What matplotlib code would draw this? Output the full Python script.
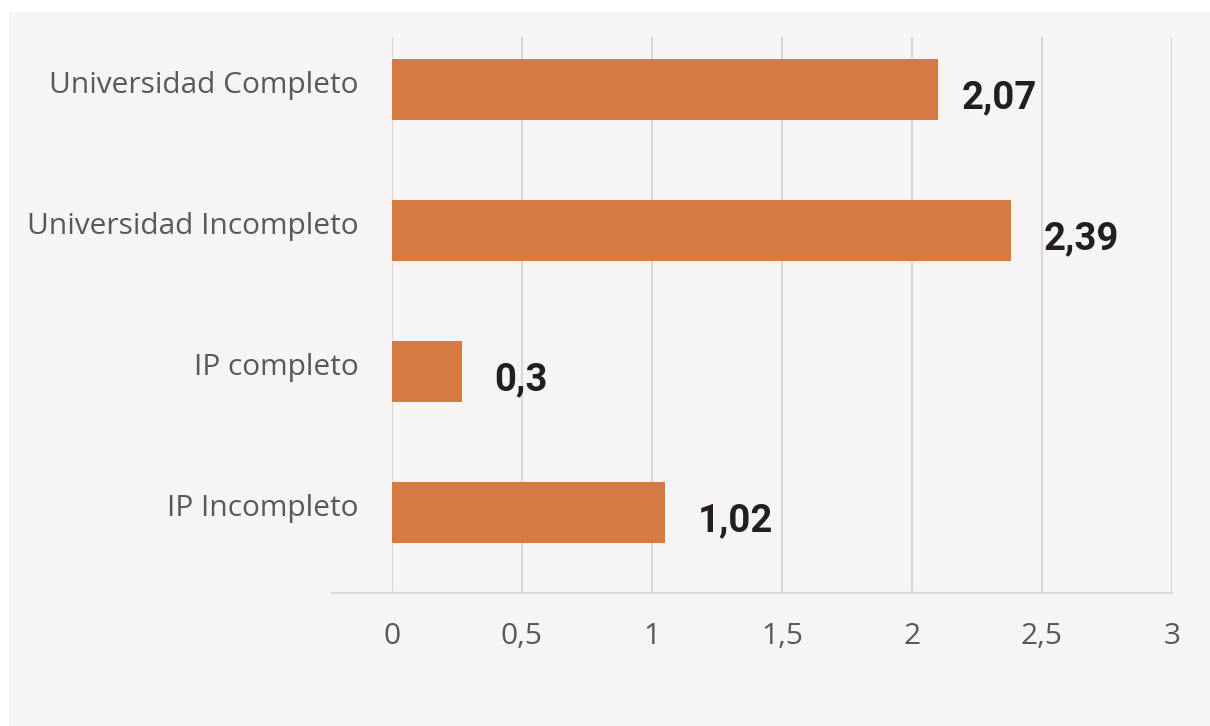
import matplotlib.pyplot as plt
from matplotlib.patches import Rectangle
from matplotlib.transforms import ScaledTranslation

# datos (de arriba hacia abajo)
categories = ["Universidad Completo", "Universidad Incompleto", "IP completo", "IP Incompleto"]
bar_values = [2.10, 2.38, 0.27, 1.05]  # largo de las barras tal como se dibujan
value_labels = ["2,07", "2,39", "0,3", "1,02"]
x_ticks = [0, 0.5, 1, 1.5, 2, 2.5, 3]
x_tick_labels = ["0", "0,5", "1", "1,5", "2", "2,5", "3"]

W, H = 1210, 726
bg = "#F6F4F5"
bar_color = "#D57A43"
grid_color = "#D9D9D9"
text_gray = "#595959"

fig = plt.figure(figsize=(W / 100, H / 100), dpi=100, facecolor="white")
# panel de fondo
fig.patches.append(Rectangle((9 / W, 0), 1 - 9 / W, 1 - 12 / H,
                             transform=fig.transFigure, facecolor=bg,
                             edgecolor="none", zorder=-10))

left, right = 392 / W, 1172 / W
top, bottom = 1 - 37 / H, 1 - 593 / H
ax = fig.add_axes([left, bottom, right - left, top - bottom])
ax.set_facecolor("none")

pos = list(range(len(categories)))
ax.barh(pos, bar_values, height=0.43, color=bar_color, zorder=3)

ax.set_xlim(0, 3)
ax.set_ylim(3.571, -0.372)
ax.set_xticks(x_ticks)
ax.set_xticklabels(x_tick_labels)
ax.set_yticks(pos)
ax.set_yticklabels(categories)

ax.grid(axis="x", color=grid_color, linewidth=1.5, zorder=0)
for s in ax.spines.values():
    s.set_visible(False)
ax.tick_params(axis="both", length=0, labelcolor=text_gray, labelsize=21.5)
ax.tick_params(axis="y", pad=24)
ax.tick_params(axis="x", pad=21)
for lab in ax.get_xticklabels() + ax.get_yticklabels():
    lab.set_fontfamily("Open Sans")

# las etiquetas de categoria quedan un poco por encima del centro de la barra
shift = ScaledTranslation(0, 7 / 100, fig.dpi_scale_trans)
for tick in ax.yaxis.get_major_ticks():
    tick.label1.set_transform(tick.label1.get_transform() + shift)

# linea del eje horizontal (se extiende a la izquierda del 0)
ax.plot([-60 / 780, 1], [0, 0], transform=ax.transAxes, color=grid_color,
        linewidth=1.5, clip_on=False, zorder=2)

# etiquetas de valores
gaps = [0.09, 0.125, 0.125, 0.125]
for i, (v, txt) in enumerate(zip(bar_values, value_labels)):
    ax.text(v + gaps[i], i + 0.06, txt, va="center", ha="left",
            fontsize=27.5, fontweight="bold", fontfamily="Roboto",
            color="#231F20", zorder=4)

fig.savefig("out.png", dpi=100, facecolor="white")
